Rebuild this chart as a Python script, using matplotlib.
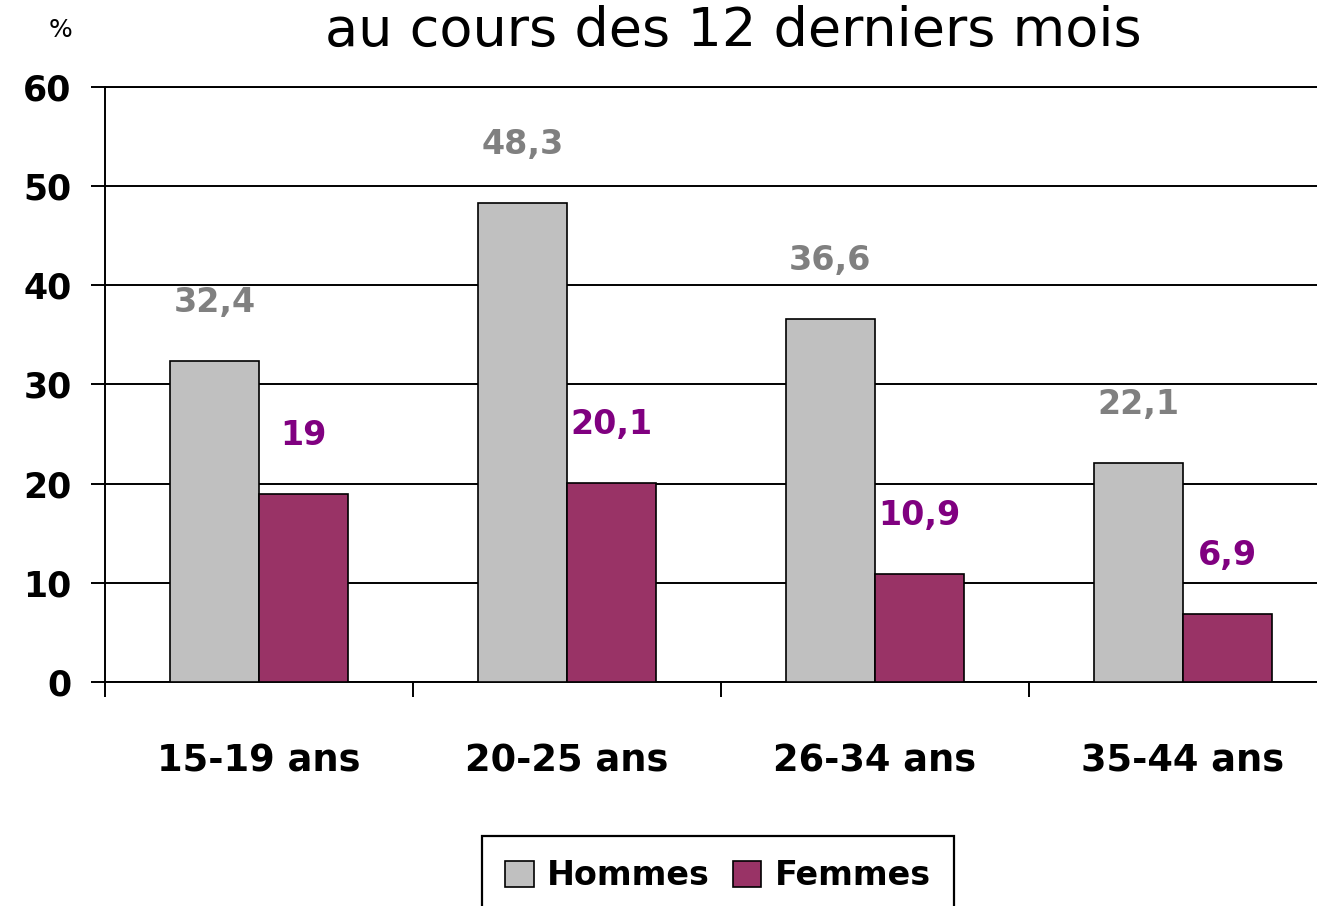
import matplotlib
matplotlib.use("Agg")
import matplotlib.pyplot as plt
import numpy as np

categories = ["15-19 ans", "20-25 ans", "26-34 ans", "35-44 ans"]
hommes = [32.4, 48.3, 36.6, 22.1]
femmes = [19, 20.1, 10.9, 6.9]
hommes_labels = ["32,4", "48,3", "36,6", "22,1"]
femmes_labels = ["19", "20,1", "10,9", "6,9"]

W, H = 1317, 906
fig = plt.figure(figsize=(W / 100, H / 100), dpi=100)

# axes spans x 105 -> ~1337 px (right edge runs past the image), y 87 -> 682
ax = fig.add_axes([105 / W, 1 - 682 / H, (1337 - 105) / W, (682 - 87) / H])

x = np.arange(len(categories))
bw = 0.29
ax.bar(x - bw / 2, hommes, bw, color="#C0C0C0", edgecolor="black", linewidth=1.2,
       label="Hommes", zorder=3)
ax.bar(x + bw / 2, femmes, bw, color="#993366", edgecolor="black", linewidth=1.2,
       label="Femmes", zorder=3)

for xi, v, lab in zip(x, hommes, hommes_labels):
    ax.annotate(lab, (xi - bw / 2, v), xytext=(0, 42), textcoords="offset points",
                ha="center", va="center", fontsize=24, fontweight="bold", color="#808080")
for xi, v, lab in zip(x, femmes, femmes_labels):
    ax.annotate(lab, (xi + bw / 2, v), xytext=(0, 42), textcoords="offset points",
                ha="center", va="center", fontsize=24, fontweight="bold", color="#800080")

ax.set_xlim(-0.5, len(categories) - 0.5)
ax.set_ylim(0, 60)
ax.set_yticks(range(0, 61, 10))
ax.set_yticklabels([str(v) for v in range(0, 61, 10)], fontsize=25, fontweight="bold")
ax.yaxis.grid(True, color="black", linewidth=1.4, zorder=0)
ax.set_axisbelow(True)

ax.set_xticks(np.arange(-0.5, len(categories), 1.0))
ax.set_xticklabels([])
ax.tick_params(axis="x", direction="out", length=11, width=1.4)
ax.tick_params(axis="y", direction="out", length=10, width=1.4, pad=14)
for xi, c in zip(x, categories):
    ax.text(xi, -8, c, ha="center", va="center", fontsize=26.5, fontweight="bold")

for s in ["top", "left", "bottom"]:
    ax.spines[s].set_linewidth(1.4)
ax.spines["right"].set_visible(False)

# title sits at the very top; keep it just inside the figure
fig.text(733 / W, 1 - 46 / H, "au cours des 12 derniers mois", ha="center", va="baseline",
         fontsize=39)
fig.text(60 / W, 1 - 30 / H, "%", ha="center", va="center", fontsize=18)

leg = fig.legend(loc="upper center", bbox_to_anchor=(718 / W, 1 - 836 / H), ncol=2,
                 prop={"weight": "bold", "size": 24}, frameon=True, framealpha=1,
                 fancybox=False, edgecolor="black", handlelength=0.85, handleheight=0.85,
                 columnspacing=0.7, handletextpad=0.4, borderpad=0.7, borderaxespad=0)
leg.get_frame().set_linewidth(1.6)

fig.savefig("out.png", dpi=100)
